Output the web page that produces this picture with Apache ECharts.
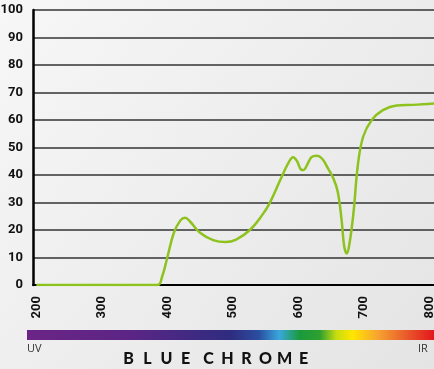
<!DOCTYPE html>
<html>
<head>
<meta charset="utf-8">
<script src="https://cdn.jsdelivr.net/npm/echarts@6/dist/echarts.min.js"></script>
<style>
  html, body { margin: 0; padding: 0; }
  #chart { width: 434px; height: 369px; }
</style>
</head>
<body>
<div id="chart"></div>
<script>
// wavelength (nm) -> transmission (%)
var wavelengths = [200, 300, 385, 392, 400, 410, 420, 427, 435, 450, 470, 489, 505, 526, 545, 556, 572, 585, 592, 598, 604, 608, 613, 620, 628, 636, 645, 653, 660, 666, 670, 674, 678, 684, 691, 699, 712, 729, 750, 775, 807]
var transmission = [0, 0, 0, 3, 10, 19, 23.5, 24.5, 23, 19, 16.3, 15.6, 16.5, 20, 25.5, 29.7, 38, 44.5, 46.5, 45, 42, 41.8, 43.5, 46.5, 47, 46, 42.5, 39, 34, 23.6, 14, 11.5, 15, 26, 44, 54, 60, 63.6, 65.3, 65.5, 66]
var xTicks = [200, 300, 400, 500, 600, 700, 800]
var yTicks = [0, 10, 20, 30, 40, 50, 60, 70, 80, 90, 100]
var title = "BLUE CHROME"

var chart = echarts.init(document.getElementById("chart"))

var numFont = "Roboto, 'Liberation Sans', sans-serif"

// spaced out title letters
var titleEls = []
var x = 128.5
title.split("").forEach(function (ch) {
    if (ch === " ") { x += 4; return }
    titleEls.push({
        type: "text",
        x: x, y: 359,
        style: {
            text: ch, fill: "#111",
            font: "900 16px Lato, sans-serif",
            align: "center", verticalAlign: "middle"
        }
    })
    x += 19
})

var option = {
    backgroundColor: {
        type: "linear", x: 0, y: 0, x2: 1, y2: 1,
        colorStops: [
            { offset: 0, color: "#f7f7f7" },
            { offset: 1, color: "#e4e4e4" }
        ]
    },
    animation: false,
    grid: { left: 33, right: 0, top: 10, bottom: 84, outerBoundsMode: "none" },
    xAxis: {
        type: "value",
        min: 195, max: 807,
        axisLine: { show: true, lineStyle: { color: "#000", width: 2 } },
        axisTick: { show: false },
        splitLine: { show: false },
        axisLabel: {
            customValues: xTicks,
            rotate: 90,
            margin: 11,
            color: "#111",
            fontWeight: "bold",
            fontSize: 13,
            fontFamily: numFont
        }
    },
    yAxis: {
        type: "value",
        min: 0, max: 100, interval: 10,
        axisLine: { show: true, lineStyle: { color: "#000", width: 2.5 } },
        axisTick: { show: false },
        splitLine: { show: true, lineStyle: { color: "#333", width: 1.5 } },
        axisLabel: {
            customValues: yTicks,
            margin: 10,
            color: "#111",
            fontWeight: "bold",
            fontSize: 13,
            fontFamily: numFont
        }
    },
    series: [{
        type: "line",
        data: wavelengths.map(function (w, i) { return [w, transmission[i]] }),
        smooth: 0.4,
        symbol: "none",
        lineStyle: { color: "#8dc21f", width: 2.5 },
        z: 3
    }],
    graphic: [
        {
            type: "rect",
            shape: { x: 27, y: 330, width: 407, height: 10 },
            style: {
                fill: {
                    type: "linear", x: 0, y: 0, x2: 1, y2: 0,
                    colorStops: [
                        { offset: 0, color: "#6b2586" },
                        { offset: 0.25, color: "#5c2585" },
                        { offset: 0.5, color: "#2f2c80" },
                        { offset: 0.57, color: "#2a4ea0" },
                        { offset: 0.62, color: "#3aa7dc" },
                        { offset: 0.67, color: "#1a9a3c" },
                        { offset: 0.72, color: "#30a030" },
                        { offset: 0.76, color: "#c8dc10" },
                        { offset: 0.8, color: "#ffe600" },
                        { offset: 0.86, color: "#f7a530" },
                        { offset: 0.94, color: "#e8522a" },
                        { offset: 1, color: "#e3161c" }
                    ]
                }
            }
        },
        {
            type: "text", x: 27, y: 343,
            style: { text: "UV", fill: "#333", font: "11px 'Open Sans', sans-serif" }
        },
        {
            type: "text", x: 418, y: 343,
            style: { text: "IR", fill: "#333", font: "11px 'Open Sans', sans-serif" }
        }
    ].concat(titleEls)
}

chart.setOption(option)
</script>
</body>
</html>
